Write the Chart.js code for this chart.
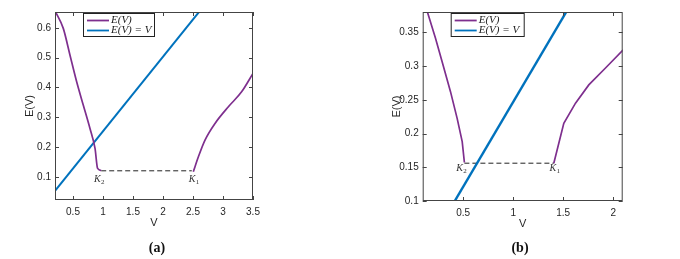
<!DOCTYPE html>
<html lang="en">
<head>
  <meta charset="UTF-8">
  <title>E(V) fixed points</title>
  <script src="https://cdn.jsdelivr.net/npm/chart.js"></script>
  <style>
    body { margin: 0; background: #fff; }
    #wrap { position: relative; width: 680px; height: 259px; }
    .panel { position: absolute; top: 0; width: 340px; height: 259px; }
    .cap { position: absolute; top: 240px; font: bold 14px "Liberation Serif", serif; color: #111; transform: translateX(-50%); }
  </style>
</head>
<body>
  <div id="wrap">
    <div class="panel" style="left:0"><canvas id="chartA" width="340" height="259"></canvas></div>
    <div class="panel" style="left:340px"><canvas id="chartB" width="340" height="259"></canvas></div>
    <div class="cap" style="left:157px">(a)</div>
    <div class="cap" style="left:520px">(b)</div>
  </div>

  <script>
    // --- panel (a) data ---
    const vA_left = [0.2, 0.338, 0.45, 0.561, 0.672, 0.783, 0.867, 0.91, 0.97];
    const eA_left = [0.657, 0.598, 0.508, 0.419, 0.34, 0.262, 0.195, 0.128, 0.121];
    const vA_right = [2.505, 2.59, 2.7, 2.867, 3.09, 3.31, 3.5];
    const eA_right = [0.117, 0.167, 0.223, 0.279, 0.335, 0.385, 0.447];
    const vA_diag = [0.2, 2.62];
    const eA_diag = [0.053, 0.658];
    const vA_dash = [0.97, 2.48];
    const eA_dash = [0.12, 0.12];
    const xTicksA = [0.5, 1, 1.5, 2, 2.5, 3, 3.5];
    const yTicksA = [0.1, 0.2, 0.3, 0.4, 0.5, 0.6];

    // --- panel (b) data ---
    const vB_left = [0.13, 0.14, 0.223, 0.29, 0.373, 0.44, 0.49, 0.512];
    const eB_left = [0.39, 0.381, 0.341, 0.306, 0.262, 0.222, 0.188, 0.157];
    const vB_right = [1.406, 1.506, 1.623, 1.756, 1.923, 2.1];
    const eB_right = [0.156, 0.215, 0.245, 0.272, 0.297, 0.324];
    const vB_diag = [0.38, 1.56];
    const eB_diag = [0.091, 0.3875];
    const vB_dash = [0.512, 1.406];
    const eB_dash = [0.156, 0.156];
    const xTicksB = [0.5, 1, 1.5, 2];
    const yTicksB = [0.1, 0.15, 0.2, 0.25, 0.3, 0.35];

    const legendLabels = ['E(V)', 'E(V) = V'];
    const PURPLE = '#7E2F8E';
    const BLUE = '#0072BD';
    const INK = '#262626';
    const SANS = '"Liberation Sans", Arial, sans-serif';

    const pts = (xs, ys) => xs.map((x, i) => ({ x: x, y: ys[i] }));

    // box, inward ticks, legend and K labels (MATLAB look)
    const framePlugin = {
      id: 'frame',
      afterDatasetsDraw(chart, args, opts) {
        const { ctx, chartArea: a, scales: { x, y } } = chart;
        ctx.save();
        ctx.strokeStyle = '#444';
        ctx.lineWidth = 1;
        ctx.strokeRect(a.left + 0.5, a.top + 0.5, a.right - a.left - 1, a.bottom - a.top - 1);
        ctx.beginPath();
        x.ticks.forEach(t => {
          const px = Math.round(x.getPixelForValue(t.value)) + 0.5;
          ctx.moveTo(px, a.bottom); ctx.lineTo(px, a.bottom - 4);
          ctx.moveTo(px, a.top); ctx.lineTo(px, a.top + 4);
        });
        y.ticks.forEach(t => {
          const py = Math.round(y.getPixelForValue(t.value)) + 0.5;
          ctx.moveTo(a.left, py); ctx.lineTo(a.left + 4, py);
          ctx.moveTo(a.right, py); ctx.lineTo(a.right - 4, py);
        });
        ctx.stroke();

        // legend
        const lx = a.left + 28, ly = a.top + 1;
        ctx.fillStyle = '#fff';
        ctx.fillRect(lx, ly, opts.legendW, 23);
        ctx.strokeStyle = '#222';
        ctx.strokeRect(lx + 0.5, ly + 0.5, opts.legendW, 23);
        const cols = [PURPLE, BLUE];
        ctx.font = 'italic 11px "Liberation Serif", serif';
        ctx.textBaseline = 'middle';
        legendLabels.forEach((lab, i) => {
          const ry = ly + 7.5 + i * 10;
          ctx.strokeStyle = cols[i];
          ctx.lineWidth = 1.8;
          ctx.beginPath(); ctx.moveTo(lx + 4, ry); ctx.lineTo(lx + 26, ry); ctx.stroke();
          ctx.fillStyle = '#222';
          ctx.fillText(lab, lx + 28, ry);
        });

        // K labels
        opts.marks.forEach(m => {
          const px = x.getPixelForValue(m.v), py = y.getPixelForValue(m.e);
          ctx.fillStyle = '#333';
          ctx.font = 'italic 10px "Liberation Serif", serif';
          ctx.textAlign = 'left';
          ctx.fillText('K', px - 6, py);
          ctx.font = '7px "Liberation Serif", serif';
          ctx.fillText(m.sub, px + 1, py + 3);
        });
        ctx.restore();
      }
    };

    function makeChart(id, d) {
      return new Chart(document.getElementById(id), {
        type: 'scatter',
        data: {
          datasets: [
            { label: 'E(V)', data: pts(d.vl, d.el), borderColor: PURPLE, borderWidth: 1.7 },
            { label: 'E(V)', data: pts(d.vr, d.er), borderColor: PURPLE, borderWidth: 1.7 },
            { label: 'E(V) = V', data: pts(d.vd, d.ed), borderColor: BLUE, borderWidth: d.blueW },
            { label: 'gap', data: pts(d.vk, d.ek), borderColor: '#222', borderWidth: 1, borderDash: [5, 3] }
          ].map(ds => Object.assign(ds, { showLine: true, pointRadius: 0, fill: false, cubicInterpolationMode: d.smooth ? 'monotone' : 'default' }))
        },
        options: {
          responsive: false,
          animation: false,
          layout: { padding: d.pad },
          plugins: {
            legend: { display: false },
            tooltip: { enabled: false },
            frame: { legendW: d.legendW, marks: d.marks }
          },
          scales: {
            x: {
              type: 'linear', min: d.xmin, max: d.xmax,
              afterBuildTicks: s => { s.ticks = d.xt.map(v => ({ value: v })); },
              afterFit: s => { s.height = d.xh; },
              grid: { display: false, drawTicks: false }, border: { display: false },
              ticks: { padding: 6, color: INK, font: { family: SANS, size: 10 }, callback: v => String(v), maxRotation: 0 },
              title: { display: true, text: 'V', color: INK, font: { family: SANS, size: 11 }, padding: { top: 0, bottom: d.xtPad } }
            },
            y: {
              type: 'linear', min: d.ymin, max: d.ymax,
              afterBuildTicks: s => { s.ticks = d.yt.map(v => ({ value: v })); },
              afterFit: s => { s.width = 55; },
              grid: { display: false, drawTicks: false }, border: { display: false },
              ticks: { padding: 4, color: INK, font: { family: SANS, size: 10 }, callback: v => String(v) },
              title: { display: true, text: 'E(V)', color: INK, font: { family: SANS, size: 11 }, padding: { top: d.ytPad, bottom: 0 } }
            }
          }
        },
        plugins: [framePlugin]
      });
    }

    makeChart('chartA', {
      vl: vA_left, el: eA_left, vr: vA_right, er: eA_right,
      vd: vA_diag, ed: eA_diag, vk: vA_dash, ek: eA_dash,
      xt: xTicksA, yt: yTicksA,
      xmin: 0.2, xmax: 3.5, ymin: 0.022, ymax: 0.653,
      pad: { left: 0, top: 12, right: 87, bottom: 0 },
      xh: 59, xtPad: 29, ytPad: 23.4, blueW: 2, legendW: 71, smooth: true,
      marks: [{ sub: '2', v: 0.95, e: 0.092 }, { sub: '1', v: 2.53, e: 0.092 }]
    });

    makeChart('chartB', {
      vl: vB_left, el: eB_left, vr: vB_right, er: eB_right,
      vd: vB_diag, ed: eB_diag, vk: vB_dash, ek: eB_dash,
      xt: xTicksB, yt: yTicksB,
      xmin: 0.095, xmax: 2.095, ymin: 0.1, ymax: 0.38,
      pad: { left: 27.7, top: 12, right: 57.3, bottom: 0 },
      xh: 58, xtPad: 28, ytPad: 22.4, blueW: 2.4, legendW: 73, smooth: false,
      marks: [{ sub: '2', v: 0.49, e: 0.148 }, { sub: '1', v: 1.423, e: 0.149 }]
    });
  </script>
</body>
</html>
